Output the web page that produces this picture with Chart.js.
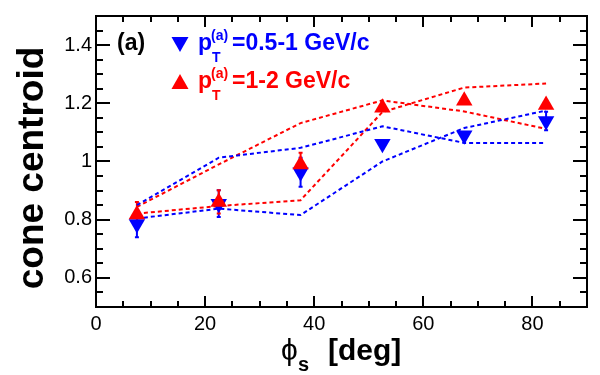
<!DOCTYPE html>
<html>
<head>
<meta charset="utf-8">
<script src="https://cdn.jsdelivr.net/npm/chart.js@4/dist/chart.umd.min.js"></script>
<style>
  body { margin: 0; background: #fff; }
  #wrap { width: 600px; height: 375px; }
</style>
</head>
<body>
<div id="wrap"><canvas id="coneChart"></canvas></div>
<script>
// phi_s bin centres [deg]
const phi = [7.5, 22.5, 37.5, 52.5, 67.5, 82.5];

// pT(a) = 0.5-1 GeV/c
const lowPt = [0.785, 0.855, 0.963, 1.061, 1.09, 1.139];
const lowErr = [0.045, 0.046, 0.05, 0.01, 0.01, 0.032];
const lowSysA = [0.85, 1.013, 1.047, 1.121, 1.064, 1.064];
const lowSysB = [0.804, 0.838, 0.816, 1.0, 1.115, 1.175];

// pT(a) = 1-2 GeV/c
const highPt = [0.818, 0.861, 0.99, 1.185, 1.209, 1.194];
const highErr = [0.043, 0.04, 0.04, 0.01, 0.01, 0.01];
const highSysA = [0.844, 0.99, 1.132, 1.21, 1.172, 1.112];
const highSysB = [0.821, 0.847, 0.867, 1.17, 1.254, 1.268];

const xTicks = [0, 20, 40, 60, 80];
const yTicks = [0.6, 0.8, 1, 1.2, 1.4];

const blue = '#0000ff';
const red = '#ff0000';

let pts = (ys) => phi.map((x, i) => ({x : x, y : ys[i]}));

let sysLine = (ys, color) => ({
    data : pts(ys),
    borderColor : color,
    borderWidth : 2,
    borderDash : [4, 3],
    pointRadius : 0,
    showLine : true,
    fill : false,
    order : 3
});

// error bars, frame, inward ticks, axis titles and legend
let rootStyle = {
    id : 'rootStyle',
    beforeDatasetsDraw(chart) {
        let ctx = chart.ctx, xs = chart.scales.x, ys = chart.scales.y;
        let drawErr = (vals, errs, color) => {
            ctx.strokeStyle = color;
            ctx.lineWidth = 2;
            vals.forEach((v, i) => {
                let px = xs.getPixelForValue(phi[i]);
                let top = ys.getPixelForValue(v + errs[i]);
                let bot = ys.getPixelForValue(v - errs[i]);
                ctx.beginPath();
                ctx.moveTo(px, top); ctx.lineTo(px, bot);
                ctx.moveTo(px - 2, top); ctx.lineTo(px + 2, top);
                ctx.moveTo(px - 2, bot); ctx.lineTo(px + 2, bot);
                ctx.stroke();
            });
        };
        ctx.save();
        drawErr(lowPt, lowErr, blue);
        drawErr(highPt, highErr, red);
        ctx.restore();
    },
    afterDraw(chart) {
        let ctx = chart.ctx, a = chart.chartArea;
        let xs = chart.scales.x, ys = chart.scales.y;
        ctx.save();
        ctx.strokeStyle = '#000';
        ctx.lineWidth = 2;
        ctx.strokeRect(a.left, a.top, a.right - a.left, a.bottom - a.top);

        ctx.beginPath();
        for (let v = 0.5; v <= 1.5001; v += 0.05) {
            let major = yTicks.some(t => Math.abs(t - v) < 1e-6);
            let len = major ? 14 : 7;
            let py = Math.round(ys.getPixelForValue(v));
            ctx.moveTo(a.left, py); ctx.lineTo(a.left + len, py);
            ctx.moveTo(a.right, py); ctx.lineTo(a.right - len, py);
        }
        for (let v = 0; v <= 90; v += 5) {
            let major = xTicks.includes(v);
            let len = major ? 11 : 6;
            let px = Math.round(xs.getPixelForValue(v));
            ctx.moveTo(px, a.bottom); ctx.lineTo(px, a.bottom - len);
            ctx.moveTo(px, a.top); ctx.lineTo(px, a.top + len);
        }
        ctx.stroke();

        // y title
        ctx.fillStyle = '#000';
        ctx.save();
        ctx.translate(43, 168);
        ctx.rotate(-Math.PI / 2);
        ctx.textAlign = 'center';
        ctx.textBaseline = 'alphabetic';
        ctx.font = 'bold 37px "Liberation Sans", Arial, sans-serif';
        ctx.fillText('cone centroid', 0, 0);
        ctx.restore();

        // x title
        ctx.textAlign = 'left';
        ctx.textBaseline = 'alphabetic';
        ctx.font = '30px "Liberation Sans", Arial, sans-serif';
        ctx.fillText('\u03d5', 281, 360);
        ctx.font = 'bold 20px "Liberation Sans", Arial, sans-serif';
        ctx.fillText('s', 298, 371);
        ctx.font = 'bold 30px "Liberation Sans", Arial, sans-serif';
        ctx.fillText('[deg]', 328, 360);

        // panel label
        ctx.font = 'bold 23px "Liberation Sans", Arial, sans-serif';
        ctx.fillText('(a)', 117, 50);

        // legend
        let tri = (cx, cy, up, color) => {
            ctx.fillStyle = color;
            ctx.beginPath();
            if (up) {
                ctx.moveTo(cx, cy - 8); ctx.lineTo(cx + 8.5, cy + 7); ctx.lineTo(cx - 8.5, cy + 7);
            } else {
                ctx.moveTo(cx, cy + 8); ctx.lineTo(cx + 8.5, cy - 7); ctx.lineTo(cx - 8.5, cy - 7);
            }
            ctx.closePath();
            ctx.fill();
        };
        let entry = (y, up, color, rest) => {
            tri(180, y - 6, up, color);
            ctx.fillStyle = color;
            ctx.font = 'bold 23px "Liberation Sans", Arial, sans-serif';
            ctx.fillText('p', 198, y);
            ctx.font = 'bold 14px "Liberation Sans", Arial, sans-serif';
            ctx.fillText('(a)', 211, y - 10);
            ctx.fillText('T', 212, y + 12);
            ctx.font = 'bold 23px "Liberation Sans", Arial, sans-serif';
            ctx.fillText(rest, 232, y);
        };
        entry(50, false, blue, '=0.5-1 GeV/c');
        entry(88, true, red, '=1-2 GeV/c');
        ctx.restore();
    }
};

let chartContainer = document.getElementById('coneChart').getContext('2d');

let config = {
    type : 'scatter',
    data : {
        datasets : [
            {
                data : pts(highPt),
                pointStyle : 'triangle',
                pointRadius : 9.5,
                backgroundColor : red,
                borderColor : red,
                borderWidth : 0,
                order : 0
            },
            {
                data : pts(lowPt),
                pointStyle : 'triangle',
                rotation : 180,
                pointRadius : 9.5,
                backgroundColor : blue,
                borderColor : blue,
                borderWidth : 0,
                order : 1
            },
            sysLine(lowSysA, blue),
            sysLine(lowSysB, blue),
            sysLine(highSysA, red),
            sysLine(highSysB, red)
        ]
    },
    options : {
        responsive : true,
        maintainAspectRatio : false,
        animation : false,
        layout : {padding : {top : 12, right : 13, left : 0, bottom : 0}},
        plugins : {
            legend : {display : false},
            tooltip : {enabled : false}
        },
        scales : {
            x : {
                type : 'linear',
                min : 0,
                max : 90,
                afterBuildTicks : s => { s.ticks = xTicks.map(v => ({value : v})); },
                afterFit : s => { s.height = 68; },
                grid : {display : false, drawTicks : false},
                border : {display : false},
                ticks : {
                    padding : 5,
                    color : '#000',
                    font : {family : '"Liberation Sans", Arial, sans-serif', size : 20}
                }
            },
            y : {
                min : 0.5,
                max : 1.5,
                afterBuildTicks : s => { s.ticks = yTicks.map(v => ({value : v})); },
                afterFit : s => { s.width = 96; },
                grid : {display : false, drawTicks : false},
                border : {display : false},
                ticks : {
                    padding : 4,
                    color : '#000',
                    font : {family : '"Liberation Sans", Arial, sans-serif', size : 20},
                    callback : v => String(Math.round(v * 10) / 10)
                }
            }
        }
    },
    plugins : [rootStyle]
};

let chart = new Chart(chartContainer, config);
</script>
</body>
</html>
